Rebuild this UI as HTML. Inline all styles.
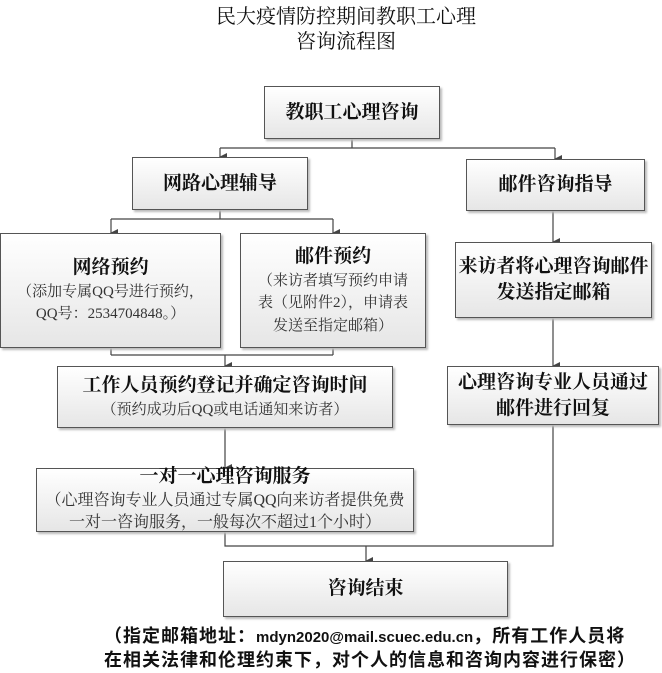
<!DOCTYPE html>
<html><head><meta charset="utf-8"><style>
body{margin:0;width:662px;height:673px;background:#fff;position:relative;overflow:hidden;font-family:"Liberation Serif","Noto Serif CJK SC",serif;color:#111}
.b{position:absolute;box-sizing:border-box;border:1px solid #555;background:linear-gradient(#fff,#e6e6e6);box-shadow:2px 2px 2px #bbb;display:flex;flex-direction:column;align-items:center;justify-content:center;text-align:center;line-height:1.35}
.h{font-weight:bold;font-size:19px}
.s{font-size:15px;color:#333;line-height:1.5}
svg{position:absolute;left:0;top:0}
.t{position:absolute;left:0;width:692px;text-align:center;font-size:20px;line-height:25px}
.f{position:absolute;left:104px;font-weight:bold;font-size:18px;letter-spacing:1px;line-height:24px;font-family:"Liberation Sans","Noto Sans CJK SC",sans-serif;white-space:nowrap}
.f span{font-size:15px;letter-spacing:0}
</style></head><body>
<div class="t" style="top:5px">民大疫情防控期间教职工心理</div>
<div class="t" style="top:30px">咨询流程图</div>
<svg width="662" height="673">
<defs><marker id="a" markerWidth="8" markerHeight="8" refX="4" refY="7" orient="auto" markerUnits="userSpaceOnUse"><path d="M0,0 L8,0 L4,8 z" fill="#444"/></marker></defs>
<g stroke="#444" stroke-width="1.2" fill="none">
<path d="M352,139 V148 M220,148 H555"/>
<path d="M220,148 V157" marker-end="url(#a)"/>
<path d="M555,148 V159" marker-end="url(#a)"/>
<path d="M220,210 V219 M111,219 H333"/>
<path d="M111,219 V233" marker-end="url(#a)"/>
<path d="M333,219 V233" marker-end="url(#a)"/>
<path d="M553,211 V242" marker-end="url(#a)"/>
<path d="M111,348 V355 M333,348 V355 M111,355 H333"/>
<path d="M225,355 V366" marker-end="url(#a)"/>
<path d="M553,318 V366" marker-end="url(#a)"/>
<path d="M225,428 V468" marker-end="url(#a)"/>
<path d="M225,532 V546 H553 V425"/>
<path d="M366,546 V561" marker-end="url(#a)"/>
</g></svg>
<div class="b" style="left:264px;top:86px;width:176px;height:53px"><div class="h">教职工心理咨询</div></div>
<div class="b" style="left:132px;top:157px;width:176px;height:53px"><div class="h">网路心理辅导</div></div>
<div class="b" style="left:466px;top:159px;width:179px;height:52px"><div class="h">邮件咨询指导</div></div>
<div class="b" style="left:0px;top:233px;width:221px;height:115px"><div class="h">网络预约</div><div class="s">（添加专属QQ号进行预约，<br>QQ号：2534704848。）</div></div>
<div class="b" style="left:240px;top:233px;width:186px;height:115px"><div class="h">邮件预约</div><div class="s">（来访者填写预约申请<br>表（见附件2），申请表<br>发送至指定邮箱）</div></div>
<div class="b" style="left:455px;top:242px;width:197px;height:76px"><div class="h">来访者将心理咨询邮件<br>发送指定邮箱</div></div>
<div class="b" style="left:57px;top:366px;width:336px;height:62px"><div class="h">工作人员预约登记并确定咨询时间</div><div class="s">（预约成功后QQ或电话通知来访者）</div></div>
<div class="b" style="left:447px;top:366px;width:212px;height:59px"><div class="h">心理咨询专业人员通过<br>邮件进行回复</div></div>
<div class="b" style="left:36px;top:468px;width:378px;height:64px;justify-content:flex-start"><div class="h" style="margin-top:-5px">一对一心理咨询服务</div><div class="s" style="font-size:16px;line-height:1.4">（心理咨询专业人员通过专属QQ向来访者提供免费<br>一对一咨询服务，一般每次不超过1个小时）</div></div>
<div class="b" style="left:223px;top:561px;width:285px;height:56px"><div class="h">咨询结束</div></div>
<div class="f" style="top:624px">（指定邮箱地址：<span>mdyn2020@mail.scuec.edu.cn</span>，所有工作人员将</div>
<div class="f" style="top:648px">在相关法律和伦理约束下，对个人的信息和咨询内容进行保密）</div>
</body></html>
